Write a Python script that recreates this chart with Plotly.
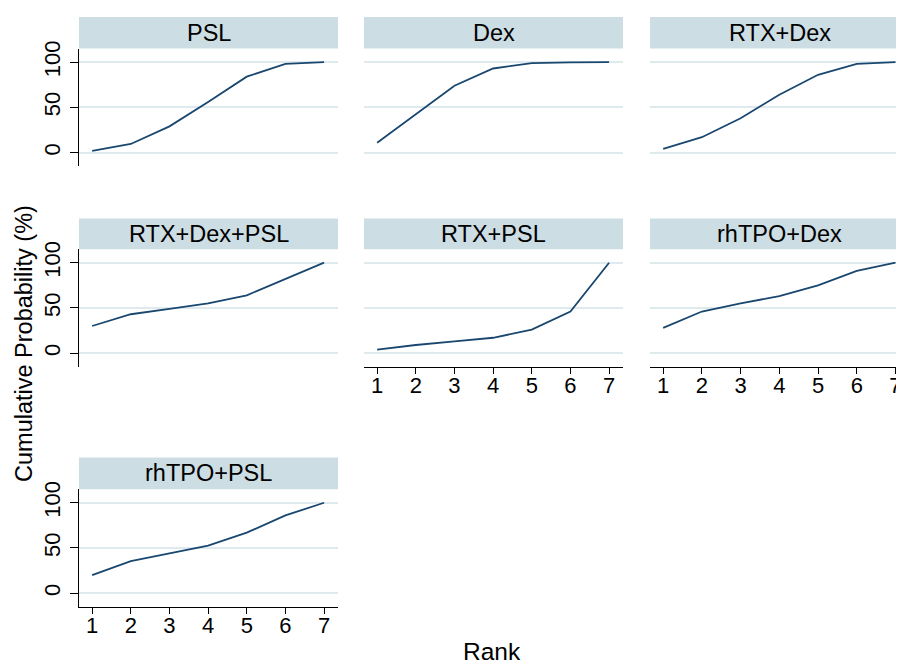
import plotly.graph_objects as go

# page body has an 8px margin; the figure is placed at (8, 8)
OFF = 8
W, H = 904 - OFF, 669 - OFF

ranks = [1, 2, 3, 4, 5, 6, 7]
treatments = ["PSL", "Dex", "RTX+Dex", "RTX+Dex+PSL", "RTX+PSL", "rhTPO+Dex", "rhTPO+PSL"]
psl = [2, 9.5, 29, 56, 84, 98, 100]
dex = [11, 42, 74, 93, 99, 99.7, 100]
rtx_dex = [4, 17, 38, 64, 86, 98, 100]
rtx_dex_psl = [30, 43, 49, 55, 64, 82, 100]
rtx_psl = [4, 9, 13, 17, 26, 46, 100]
rhtpo_dex = [28, 46, 55, 63, 75, 91, 100]
rhtpo_psl = [20, 35.5, 44, 52.5, 67, 86, 100]
series = [psl, dex, rtx_dex, rtx_dex_psl, rtx_psl, rhtpo_dex, rhtpo_psl]
y_ticks = [0, 50, 100]

# panel geometry in page pixels
cols = [(79, 338, [0.66, 7.36]), (364, 623, [0.66, 7.36]), (650, 904, [0.66, 7.22])]
rows = [(41, 160, 9), (244, 363, 213), (487, 606, 455)]
positions = [(0, 0), (0, 1), (0, 2), (1, 0), (1, 1), (1, 2), (2, 0)]
has_xaxis = {(1, 1), (1, 2), (2, 0)}

LINE = "#1a476f"
STRIP = "#cddde4"
GRID = "#dfeaee"
FONT = "Arial, Liberation Sans, sans-serif"

fig = go.Figure()
shapes, annotations = [], []
layout = {}


def px(x):
    return (x - OFF) / W


def py(y):
    return 1 - (y - OFF) / H


for i, (name, vals) in enumerate(zip(treatments, series)):
    r, c = positions[i]
    x0, x1, xr = cols[c]
    y0, y1, s0 = rows[r]
    sfx = "" if i == 0 else str(i + 1)
    xa, ya = "xaxis" + sfx, "yaxis" + sfx
    xref, yref = "x" + sfx, "y" + sfx
    fig.add_trace(go.Scatter(x=ranks, y=vals, mode="lines",
                             line=dict(color=LINE, width=1.8),
                             xaxis=xref, yaxis=yref, showlegend=False,
                             hoverinfo="skip"))
    showx = (r, c) in has_xaxis
    layout[xa] = dict(domain=[px(x0), min(px(x1), 1)], range=xr, anchor=yref,
                      showgrid=False, zeroline=False,
                      showline=showx, linecolor="black", linewidth=1.2,
                      ticks="outside" if showx else "", ticklen=6,
                      tickcolor="black", tickwidth=1.2,
                      showticklabels=showx, tickvals=ranks,
                      ticklabelstandoff=-7,
                      tickfont=dict(family=FONT, size=22, color="black"))
    showy = c == 0
    layout[ya] = dict(domain=[py(y1), py(y0)], range=[-15, 115], anchor=xref,
                      showgrid=True, gridcolor=GRID, gridwidth=1.5,
                      zeroline=False, showline=showy, linecolor="black",
                      linewidth=1.2, ticks="outside" if showy else "",
                      ticklen=8, tickcolor="black", tickwidth=1.2,
                      showticklabels=showy, tickvals=y_ticks, tickangle=-90,
                      ticklabelstandoff=1,
                      tickfont=dict(family=FONT, size=22, color="black"))
    # strip
    shapes.append(dict(type="rect", xref="paper", yref="paper",
                       x0=px(x0), x1=min(px(x1), 1), y0=py(y0), y1=py(s0),
                       fillcolor=STRIP, line=dict(width=0), layer="below"))
    annotations.append(dict(text=name, xref="paper", yref="paper",
                            x=px((x0 + x1) / 2 if c < 2 else (x0 + 909) / 2),
                            y=py((y0 + s0) / 2), showarrow=False,
                            xanchor="center", yanchor="middle",
                            font=dict(family=FONT, size=23.5, color="black")))

annotations.append(dict(text="Cumulative Probability (%)", xref="paper", yref="paper",
                        x=px(24), y=py(340), textangle=-90, showarrow=False,
                        xanchor="center", yanchor="middle",
                        font=dict(family=FONT, size=23.5, color="black")))
annotations.append(dict(text="Rank", xref="paper", yref="paper",
                        x=px(492), y=py(651), showarrow=False,
                        xanchor="center", yanchor="middle",
                        font=dict(family=FONT, size=24.5, color="black")))

fig.update_layout(width=W, height=H, margin=dict(l=0, r=0, t=0, b=0),
                  paper_bgcolor="white", plot_bgcolor="white",
                  shapes=shapes, annotations=annotations, **layout)

fig.write_html("out.html")
